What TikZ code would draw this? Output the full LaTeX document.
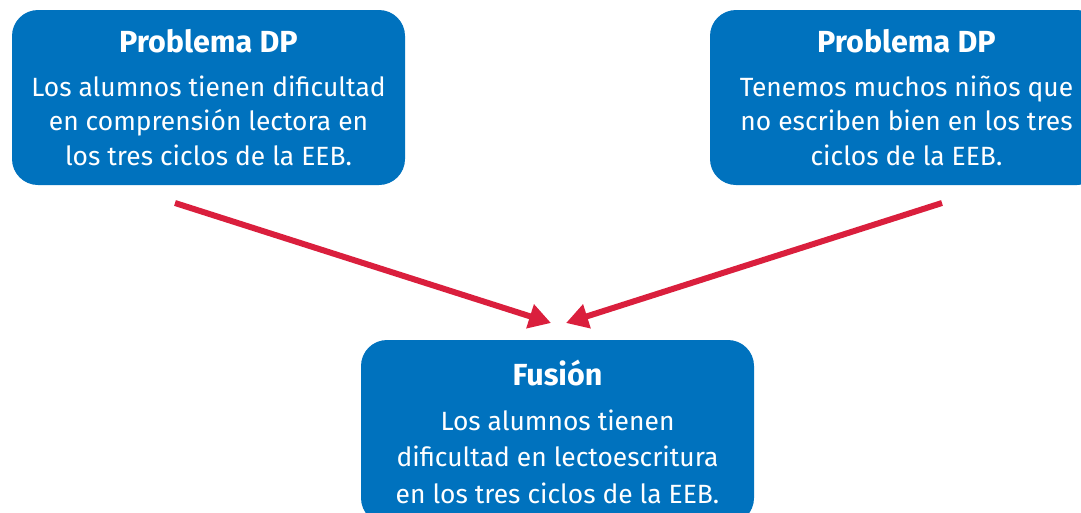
\documentclass[tikz,border=0pt]{standalone}
\usepackage{fontspec}
\setmainfont{Fira Sans}
\usetikzlibrary{arrows.meta}
\usetikzlibrary{positioning}

\definecolor{boxblue}{RGB}{0,114,190}
\definecolor{arrowred}{RGB}{218,31,61}

\begin{document}
\begin{tikzpicture}[
    x=1pt, y=-1pt,
    font=\fontsize{26.4}{34.5}\selectfont
]
\tikzset{
    probbox/.style = {rectangle, rounded corners=26pt, fill=boxblue, text=white,
        align=center, minimum width=393pt, minimum height=175pt, inner sep=0pt},
    redarrow/.style = {-{Triangle[length=22pt,width=24pt]}, line width=6pt, arrowred}
}
\useasboundingbox (0,0) rectangle (1081,512);
\clip (0,0) rectangle (1081,512);
\node[probbox] at (208.5,97.5) (left) {{\bfseries\fontsize{30.5}{34.5}\selectfont Problema DP}\\[9pt]
    Los alumnos tienen dificultad\\ en comprensión lectora en\\ los tres ciclos de la EEB.};
\node[probbox] at (906.5,97.5) (right) {{\bfseries\fontsize{30.5}{34.5}\selectfont Problema DP}\\[9pt]
    Tenemos muchos niños que\\ no escriben bien en los tres\\ ciclos de la EEB.};
\node[probbox, minimum height=184pt, font=\fontsize{26.4}{36.5}\selectfont] at (557.5,432) (fusion) {{\bfseries\fontsize{30.5}{36.5}\selectfont Fusión}\\[8pt]
    Los alumnos tienen\\ dificultad en lectoescritura\\ en los tres ciclos de la EEB.};
% flechas
\coordinate (lstart) at (175,203);
\coordinate (ltip) at (551,323);
\coordinate (rstart) at (942,203);
\coordinate (rtip) at (566,323);
\draw[redarrow] (lstart) -- (ltip);
\draw[redarrow] (rstart) -- (rtip);
\end{tikzpicture}
\end{document}
